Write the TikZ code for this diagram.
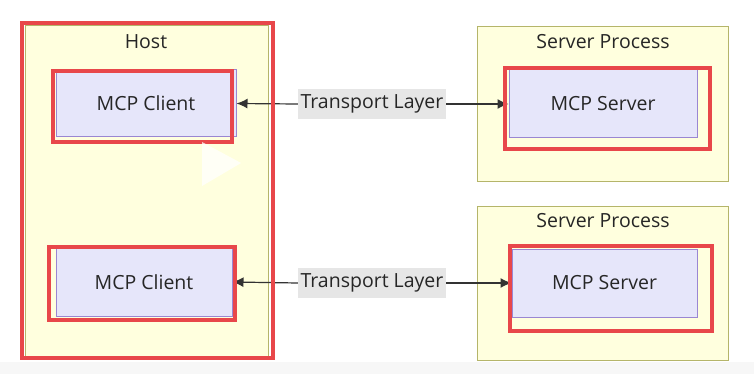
\documentclass[tikz,border=0pt]{standalone}
\usepackage{fontspec}
\setmainfont{Open Sans}
\usetikzlibrary{arrows.meta}
\definecolor{clfill}{HTML}{FFFFDE}
\definecolor{cldraw}{HTML}{B5B56A}
\definecolor{ndfill}{HTML}{E6E6FA}
\definecolor{nddraw}{HTML}{9A86D2}
\definecolor{hl}{HTML}{E8474A}
\definecolor{txt}{HTML}{262626}
\definecolor{lblbg}{HTML}{E6E6E6}
\tikzset{
  cluster/.style={draw=cldraw, fill=clfill, line width=1pt},
  ndbox/.style={draw=nddraw, fill=ndfill, line width=1pt},
  hilite/.style={draw=hl, line width=3.2pt},
  lbl/.style={text=txt, font=\fontsize{19.5}{22}\selectfont},
  elbl/.style={fill=lblbg, text=txt, font=\fontsize{19.5}{22}\selectfont, inner sep=1pt, minimum height=30pt, minimum width=148pt},
  conn/.style={draw=black!80, line width=1.2pt, -{Latex[length=11pt,width=10pt]}},
}
\begin{document}
\begin{tikzpicture}[x=1pt,y=-1pt]
\useasboundingbox (0,0) rectangle (754,374);
\fill[white] (0,0) rectangle (754,374);
\fill[black!3] (0,362) rectangle (754,374);
% Host cluster
\draw[cluster] (25,26) rectangle (268,356);
\node[lbl] (host) at (146,42) {Host};
% Server process clusters
\draw[cluster] (477,27) rectangle (728,181);
\node[lbl] (sp1) at (603,42) {Server Process};
\draw[cluster] (477,206) rectangle (728,360);
\node[lbl] (sp2) at (603,221) {Server Process};
% Nodes
\node[ndbox, minimum width=180pt, minimum height=67pt, lbl] (c1) at (146,103.5) {MCP Client};
\node[ndbox, minimum width=176pt, minimum height=68pt, lbl] (c2) at (144,282) {MCP Client};
\node[ndbox, minimum width=188pt, minimum height=68pt, lbl] (s1) at (603,104) {MCP Server};
\node[ndbox, minimum width=185pt, minimum height=68pt, lbl] (s2) at (604.5,283) {MCP Server};
% Connectors
\node[elbl] (t1) at (372,104) {Transport Layer};
\node[elbl] (t2) at (372,283) {Transport Layer};
\draw[conn] (t1.west) -- (c1.east);
\draw[conn] (t1.east) -- (s1.west);
\draw[conn] (t2.west) -- (c2.east);
\draw[conn] (t2.east) -- (s2.west);
% Highlight rectangles
\draw[hilite] (22,23) rectangle (273,358);
\draw[hilite] (53,71) rectangle (232,142);
\draw[hilite] (49,247) rectangle (235,320);
\draw[hilite] (505,68) rectangle (710,149);
\draw[hilite] (510,246) rectangle (712,331);
% play overlay
\fill[white, opacity=0.75] (202,142) -- (241,163) -- (202,186) -- cycle;
\end{tikzpicture}
\end{document}
